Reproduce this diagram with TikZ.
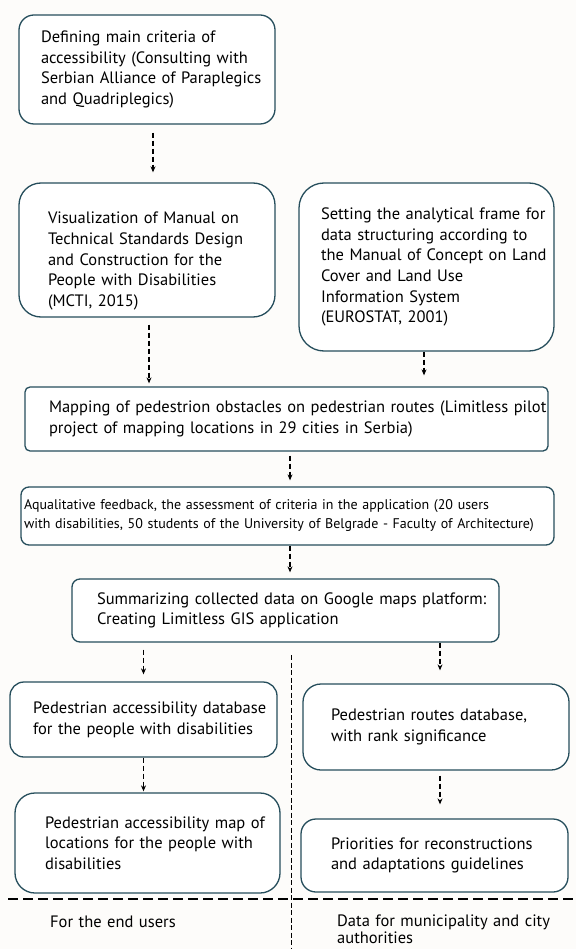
\documentclass[tikz,border=0pt]{standalone}
\usepackage{fontspec}
\setmainfont{PT Sans}
\usetikzlibrary{arrows.meta}
\definecolor{edge}{RGB}{38,78,92}
\definecolor{paper}{RGB}{253,252,250}

\begin{document}
\begin{tikzpicture}[x=1pt, y=-1pt,
  stage/.style={draw=edge, line width=1.3pt, fill=white, align=left,
    inner xsep=1pt, font=\fontsize{16.5}{20.7}\selectfont},
  dims/.style n args={4}{minimum width=#1, text width=#1-2pt,
    minimum height=#2, rounded corners=#4,
    execute at begin node={\leftskip=#3\relax}},
  flow/.style={-{Stealth[length=6pt, width=5pt]}, line width=1.2pt,
    dash pattern=on 5pt off 3pt},
  split/.style={line width=2pt, dash pattern=on 10pt off 5pt},
  note/.style={font=\fontsize{16.5}{17}\selectfont, align=left,
    text width=240pt, inner sep=0pt, anchor=base west}]
  \fill[paper] (0,0) rectangle (576,949);
  \useasboundingbox (0,0) rectangle (576,949);

  % first column
  \node[stage, dims={256pt}{109pt}{21pt}{15pt}] (crit) at (147,69.5)
    {Defining main criteria of\\accessibility (Consulting with\\Serbian Alliance of Paraplegics\\and Quadriplegics)};
  \node[stage, dims={256pt}{134pt}{28pt}{22pt}] (manual) at (147,250)
    {\\[13pt]Visualization of Manual on\\Technical Standards Design\\and Construction for the\\People with Disabilities\\(MCTI, 2015)};
  \node[stage, dims={255pt}{168pt}{21pt}{25pt}] (frame) at (426.5,267)
    {Setting the analytical frame for\\data structuring according to\\the Manual of Concept on Land\\Cover and Land Use\\Information System\\(EUROSTAT, 2001)};

  % common steps
  \node[stage, dims={523pt}{64pt}{23pt}{5pt}] (mapping) at (286.5,419)
    {Mapping of pedestrion obstacles on pedestrian routes (Limitless pilot\\project of mapping locations in 29 cities in Serbia)};
  \node[stage, dims={533pt}{58pt}{2pt}{8pt}, font=\fontsize{14}{19}\selectfont] (qual) at (287.5,516)
    {Aqualitative feedback, the assessment of criteria in the application (20 users\\with disabilities, 50 students of the University of Belgrade - Faculty of Architecture)};
  \node[stage, dims={427pt}{63pt}{24pt}{8pt}] (summ) at (285.5,610.5)
    {Summarizing collected data on Google maps platform:\\Creating Limitless GIS application};

  % outputs
  \node[stage, dims={267pt}{75pt}{22pt}{14pt}] (accdb) at (143.5,719.5)
    {Pedestrian accessibility database\\for the people with disabilities};
  \node[stage, dims={266pt}{86pt}{27pt}{18pt}] (routedb) at (436,727)
    {Pedestrian routes database,\\with rank significance};
  \node[stage, dims={265pt}{100pt}{29pt}{20pt}] (accmap) at (147.5,843)
    {Pedestrian accessibility map of\\locations for the people with\\disabilities};
  \node[stage, dims={267pt}{73pt}{29pt}{15pt}] (prio) at (434.5,855.5)
    {Priorities for reconstructions\\and adaptations guidelines};

  \node[note] (endusers) at (50,927) {For the end users};
  \node[note] (cityusers) at (337,926) {Data for municipality and city\\authorities};

  % connectors
  \draw[flow, shorten <=8pt, shorten >=10pt] ([xshift=6pt]crit.south) -- ([xshift=6pt]crit.south |- manual.north);
  \draw[flow, shorten <=7pt, shorten >=3pt] ([xshift=2pt]manual.south) -- ([xshift=2pt]manual.south |- mapping.north);
  \draw[flow, shorten >=11pt] ([xshift=-2.5pt]frame.south) -- ([xshift=-2.5pt]frame.south |- mapping.north);
  \draw[flow, shorten <=4pt, shorten >=6pt] ([xshift=3.5pt]mapping.south) -- ([xshift=3.5pt]mapping.south |- qual.north);
  \draw[flow, shorten >=6pt] ([xshift=2.5pt]qual.south) -- ([xshift=2.5pt]qual.south |- summ.north);
  \draw[flow, shorten <=7pt, shorten >=7pt] (accdb.north |- summ.south) -- (accdb.north);
  \draw[flow, shorten >=13pt] ([xshift=4pt]routedb.north |- summ.south) -- ([xshift=4pt]routedb.north);
  \draw[flow, shorten >=1pt] (accdb.south) -- (accdb.south |- accmap.north);
  \draw[flow, shorten <=5pt, shorten >=14pt] ([xshift=4pt]routedb.south) -- ([xshift=4pt]routedb.south |- prio.north);

  % dividers
  \coordinate (hl) at (8,899);
  \coordinate (hr) at (576,899);
  \coordinate (vt) at (291,655);
  \coordinate (vb) at (291,949);
  \draw[split] (hl) -- (hr);
  \draw[line width=1pt, dash pattern=on 5pt off 2.5pt] (vt) -- (vb);
\end{tikzpicture}
\end{document}
